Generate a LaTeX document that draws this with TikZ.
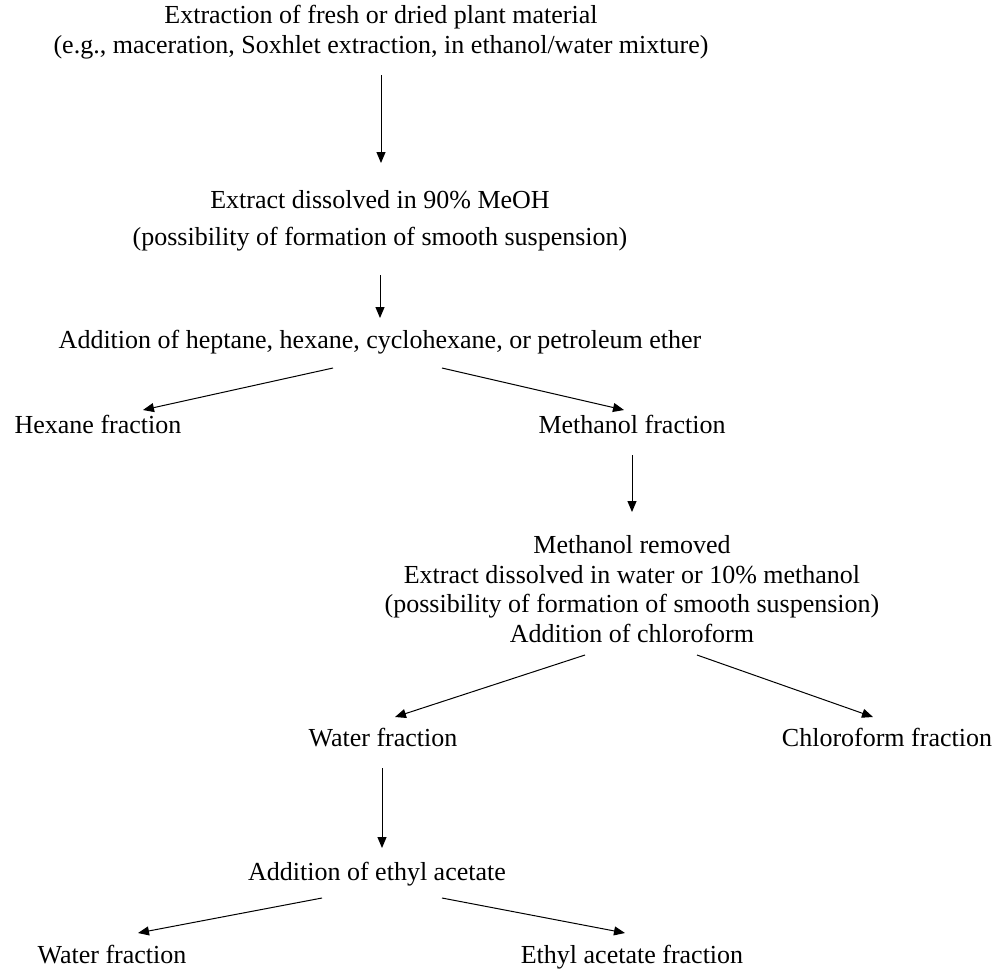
\documentclass[tikz,border=0pt]{standalone}
\usepackage{fontspec}
\setmainfont{Liberation Serif}
\usetikzlibrary{arrows.meta,calc}
\begin{document}
\begin{tikzpicture}[x=1pt,y=-1pt,
  lbl/.style={inner sep=0pt, align=center, font=\fontsize{26}{29.5}\selectfont},
  one/.style={lbl, text height=17pt, text depth=0pt},
  arr/.style={draw=black, line width=1pt, -{Triangle[length=11pt,width=9pt]}}]
\useasboundingbox[fill=white] (0,0) rectangle (997,970);
\node[lbl] (src) at (381,32) {Extraction of fresh or dried plant material\\(e.g., maceration, Soxhlet extraction, in ethanol/water mixture)};
\node[one] (ext) at (380,200) {Extract dissolved in 90\% MeOH};
\node[one] (susp) at (380,237) {(possibility of formation of smooth suspension)};
\node[one] (hept) at (380,340) {Addition of heptane, hexane, cyclohexane, or petroleum ether};
\node[one] (hex) at (98,425) {Hexane fraction};
\node[one] (meoh) at (632,425) {Methanol fraction};
\node[lbl] (rem) at (632,589) {Methanol removed\\Extract dissolved in water or 10\% methanol\\(possibility of formation of smooth suspension)\\Addition of chloroform};
\node[one] (wat1) at (383,738) {Water fraction};
\node[one] (chl) at (887,738) {Chloroform fraction};
\node[one] (etac) at (377,872) {Addition of ethyl acetate};
\node[one] (wat2) at (112,955) {Water fraction};
\node[one] (etf) at (632,955) {Ethyl acetate fraction};
\draw[arr] ($(src)+(0,43)$) -- ($(ext)+(1,-37)$);
\draw[arr] ($(susp)+(0,38)$) -- ($(hept)+(0,-22)$);
\draw[arr] ($(hept)+(-47,28)$) -- ($(hex)+(45,-15)$);
\draw[arr] ($(hept)+(62,28)$) -- ($(meoh)+(-8,-15)$);
\draw[arr] ($(meoh)+(0,30)$) -- ($(rem)+(0,-77)$);
\draw[arr] ($(rem)+(-47,66)$) -- ($(wat1)+(12,-21)$);
\draw[arr] ($(rem)+(65,66)$) -- ($(chl)+(-14,-21)$);
\draw[arr] ($(wat1)+(-1,30)$) -- ($(etac)+(5,-24)$);
\draw[arr] ($(etac)+(-55,26)$) -- ($(wat2)+(26,-22)$);
\draw[arr] ($(etac)+(65,26)$) -- ($(etf)+(-7,-22)$);
\end{tikzpicture}
\end{document}
